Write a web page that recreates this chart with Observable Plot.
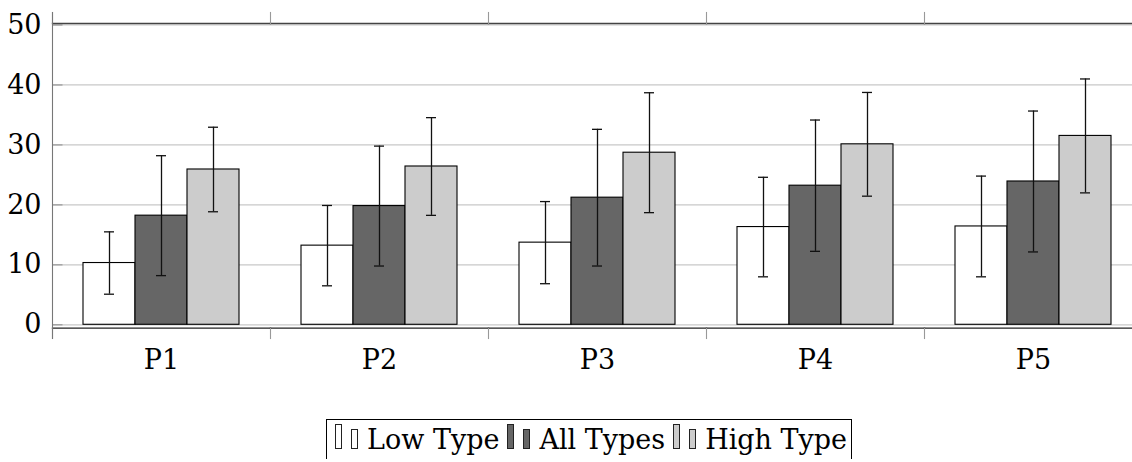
<!DOCTYPE html>
<html>
<head>
<meta charset="utf-8">
<script src="https://cdn.jsdelivr.net/npm/d3@7"></script>
<script src="https://cdn.jsdelivr.net/npm/@observablehq/plot@0.6"></script>
<style>
  html, body { margin: 0; padding: 0; background: #fff; overflow: hidden; }
  body { font-family: "DejaVu Serif", serif; color: #000; }
  #chart svg { display: block; }
  #legend {
    margin-left: 326px; margin-top: 19px;
    display: inline-flex; align-items: baseline;
    border: 1px solid #000; border-bottom: none;
    padding: 4px 4px 10px 8px; height: 40px; box-sizing: border-box;
    font-size: 27px; line-height: 1; white-space: nowrap;
  }
  .sw { display: inline-block; width: 7px; border: 1px solid #222; box-sizing: border-box; }
  .sw1 { height: 25px; margin-right: 9px; }
  .sw2 { height: 20px; margin-right: 9px; }
  .lab { margin-right: 8px; }
  .lab:last-child { margin-right: 0; }
</style>
</head>
<body>
<div id="chart"></div>
<div id="legend"></div>
<script>
// ---- data ----
const groups = ["P1", "P2", "P3", "P4", "P5"];
const series = ["Low Type", "All Types", "High Type"];
const seriesColors = ["#ffffff", "#666666", "#cccccc"];
const lowType  = [10.3, 13.2, 13.7, 16.3, 16.4];
const allTypes = [18.2, 19.8, 21.2, 23.2, 23.9];
const highType = [25.9, 26.4, 28.7, 30.1, 31.5];
const lowErr   = [5.2, 6.7, 6.85, 8.3, 8.4];
const allErr   = [10.0, 10.0, 11.4, 10.95, 11.75];
const highErr  = [7.05, 8.15, 10.0, 8.65, 9.5];
const yTicks = [0, 10, 20, 30, 40, 50];

const values = [lowType, allTypes, highType];
const errors = [lowErr, allErr, highErr];
const rows = [];
groups.forEach((g, i) => series.forEach((s, j) => rows.push({
  group: g, series: s, value: values[j][i], err: errors[j][i]
})));

const font = "DejaVu Serif";
const plot = Plot.plot({
  width: 1132,
  height: 400,
  marginLeft: 51,
  marginRight: -10.5,
  marginTop: 23,
  marginBottom: 72.3,
  style: { fontFamily: font, fontSize: "27px", background: "#fff", color: "#000", overflow: "hidden" },
  fx: { domain: groups, padding: 0, label: null },
  x: { domain: series, padding: 0, paddingOuter: 0.559, axis: null },
  y: { domain: [-0.57, 50.25], label: null },
  color: { domain: series, range: seriesColors },
  marks: [
    Plot.gridY(yTicks, { stroke: "#c8c8c8", strokeOpacity: 1, strokeWidth: 1.2 }),
    Plot.tickY(yTicks, { y: d => d, facetAnchor: "left", insetRight: 207.5, stroke: "#999", strokeWidth: 1.2 }),
    Plot.barY(rows, { fx: "group", x: "series", y: "value", fill: "series", stroke: "#000", strokeWidth: 1.1 }),
    Plot.ruleX(rows, { fx: "group", x: "series", y1: d => d.value - d.err, y2: d => d.value + d.err, stroke: "#111", strokeWidth: 1.3 }),
    Plot.tickY(rows, { fx: "group", x: "series", y: d => d.value + d.err, insetLeft: 21, insetRight: 21, stroke: "#111", strokeWidth: 1.3 }),
    Plot.tickY(rows, { fx: "group", x: "series", y: d => d.value - d.err, insetLeft: 21, insetRight: 21, stroke: "#111", strokeWidth: 1.3 }),
    Plot.frame({ anchor: "top", stroke: "#444", strokeWidth: 1.3 }),
    Plot.frame({ anchor: "bottom", stroke: "#222", strokeWidth: 1.3 }),
    Plot.frame({ anchor: "left", insetTop: -11, insetBottom: 304.7, stroke: "#999", strokeWidth: 1.1 }),
    Plot.frame({ anchor: "left", insetTop: 304.7, insetBottom: -10.3, stroke: "#999", strokeWidth: 1.1 }),
    Plot.frame({ anchor: "left", facetAnchor: "left", insetTop: -11, insetBottom: -10.3, stroke: "#777", strokeWidth: 1.1 }),
    Plot.axisY(yTicks, { tickSize: 0, tickPadding: 11, label: null, fontSize: 27, fontFamily: font }),
    Plot.axisFx({ anchor: "bottom", tickSize: 0, tickPadding: 22, label: null, fontSize: 27, fontFamily: font })
  ]
});
document.getElementById("chart").appendChild(plot);

// ---- legend ----
const legend = document.getElementById("legend");
series.forEach((s, j) => {
  const a = document.createElement("span");
  a.className = "sw sw1"; a.style.background = seriesColors[j];
  const b = document.createElement("span");
  b.className = "sw sw2"; b.style.background = seriesColors[j];
  const t = document.createElement("span");
  t.className = "lab"; t.textContent = s;
  legend.append(a, b, t);
});
</script>
</body>
</html>
